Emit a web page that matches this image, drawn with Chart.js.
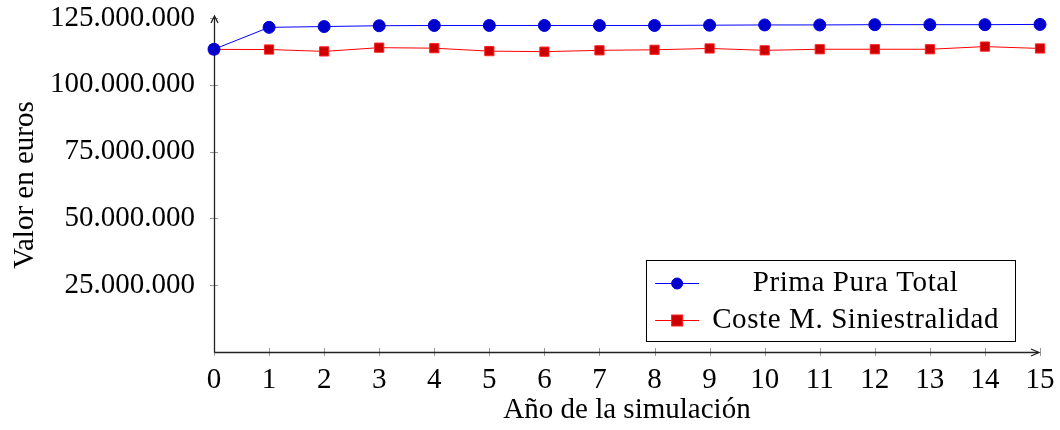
<!DOCTYPE html>
<html>
<head>
<meta charset="utf-8">
<script src="https://cdn.jsdelivr.net/npm/chart.js@4"></script>
<style>
  html, body { margin: 0; background: #fff; }
  #wrap { width: 1060px; height: 430px; position: relative; }
</style>
</head>
<body>
<div id="wrap"><canvas id="chart"></canvas></div>
<script>
// datos
const years = [0, 1, 2, 3, 4, 5, 6, 7, 8, 9, 10, 11, 12, 13, 14, 15];
const primaPura = [113.3e6, 121.5e6, 121.8e6, 122.1e6, 122.2e6, 122.2e6, 122.2e6, 122.2e6, 122.2e6, 122.3e6, 122.4e6, 122.4e6, 122.5e6, 122.5e6, 122.5e6, 122.6e6];
const costeSiniestralidad = [113.25e6, 113.2e6, 112.5e6, 113.9e6, 113.7e6, 112.6e6, 112.4e6, 112.9e6, 113.1e6, 113.6e6, 112.9e6, 113.3e6, 113.3e6, 113.3e6, 114.3e6, 113.6e6];
const yTickValues = [25e6, 50e6, 75e6, 100e6, 125e6];
const seriesNames = ['Prima Pura Total', 'Coste M. Siniestralidad'];

const FONT = '"Liberation Serif", "DejaVu Serif", serif';
const FSIZE = 29;

function fmtEuros(v) {
  return String(Math.round(v)).replace(/\B(?=(\d{3})+(?!\d))/g, '.');
}

// ejes con flecha y marcas cruzadas (estilo pgfplots)
const axesPlugin = {
  id: 'axesPlugin',
  beforeDatasetsDraw(chart) {
    const { ctx, chartArea: a, scales } = chart;
    const x = scales.x, y = scales.y;
    ctx.save();
    ctx.strokeStyle = '#999';
    ctx.lineWidth = 1;
    yTickValues.forEach(v => {
      const py = Math.round(y.getPixelForValue(v)) + 0.5;
      ctx.beginPath(); ctx.moveTo(a.left - 4, py); ctx.lineTo(a.left + 4, py); ctx.stroke();
    });
    years.forEach(v => {
      const px = Math.round(x.getPixelForValue(v)) + 0.5;
      ctx.beginPath(); ctx.moveTo(px, a.bottom - 4); ctx.lineTo(px, a.bottom + 4); ctx.stroke();
    });
    ctx.strokeStyle = '#222';
    ctx.lineWidth = 1.3;
    const L = Math.round(a.left) + 0.5, B = Math.round(a.bottom) + 0.5;
    ctx.beginPath(); ctx.moveTo(L, B); ctx.lineTo(L, a.top - 1); ctx.stroke();
    ctx.beginPath(); ctx.moveTo(L, B); ctx.lineTo(a.right - 2, B); ctx.stroke();
    // flechas
    ctx.beginPath();
    ctx.moveTo(L - 3.5, a.top + 5); ctx.lineTo(L, a.top - 2); ctx.lineTo(L + 3.5, a.top + 5);
    ctx.stroke();
    ctx.beginPath();
    ctx.moveTo(a.right - 9, B - 3.5); ctx.lineTo(a.right - 1, B); ctx.lineTo(a.right - 9, B + 3.5);
    ctx.stroke();
    ctx.restore();
  }
};

// leyenda dentro del área, abajo a la derecha
const legendBoxPlugin = {
  id: 'legendBoxPlugin',
  afterDatasetsDraw(chart) {
    const { ctx, chartArea: a } = chart;
    ctx.save();
    ctx.font = FSIZE + 'px ' + FONT;
    ctx.letterSpacing = '0.6px';
    const textW = Math.max(...chart.data.datasets.map(d => ctx.measureText(d.label).width)) + 8;
    const sampleW = 44, gap = 9, padL = 9, padR = 12, rowH = 37;
    const boxW = padL + sampleW + gap + textW + padR;
    const boxH = rowH * 2 + 7;
    const right = a.right - 25, bottom = a.bottom - 11;
    const left = right - boxW, top = bottom - boxH;
    ctx.fillStyle = '#fff';
    ctx.fillRect(left, top, boxW, boxH);
    ctx.strokeStyle = '#000';
    ctx.lineWidth = 1;
    ctx.strokeRect(Math.round(left) + 0.5, Math.round(top) + 0.5, Math.round(boxW), Math.round(boxH));
    chart.data.datasets.forEach((d, i) => {
      const cy = top + 3 + rowH * (i + 0.5) + 2;
      const sx = left + padL;
      ctx.strokeStyle = d.borderColor;
      ctx.lineWidth = 1;
      ctx.beginPath(); ctx.moveTo(sx, cy); ctx.lineTo(sx + sampleW, cy); ctx.stroke();
      const mx = sx + sampleW / 2;
      ctx.fillStyle = d.pointBackgroundColor;
      ctx.strokeStyle = d.pointBorderColor;
      if (d.pointStyle === 'rect') {
        ctx.fillRect(mx - 5.5, cy - 5.5, 11, 11);
        ctx.strokeRect(mx - 5.5, cy - 5.5, 11, 11);
      } else {
        ctx.beginPath(); ctx.arc(mx, cy, 5.5, 0, Math.PI * 2); ctx.fill(); ctx.stroke();
      }
      ctx.fillStyle = '#000';
      ctx.textAlign = 'center';
      ctx.textBaseline = 'middle';
      ctx.fillText(d.label, sx + sampleW + gap + textW / 2, cy);
    });
    ctx.restore();
  }
};

const ctx = document.getElementById('chart');
new Chart(ctx, {
  type: 'line',
  data: {
    labels: years,
    datasets: [
      {
        label: seriesNames[0],
        data: years.map((yr, i) => ({ x: yr, y: primaPura[i] })),
        borderColor: '#0000ff', borderWidth: 1,
        pointStyle: 'circle', pointRadius: 6,
        pointBackgroundColor: '#0000cc', pointBorderColor: '#0000e0', pointBorderWidth: 1,
        tension: 0, clip: false
      },
      {
        label: seriesNames[1],
        data: years.map((yr, i) => ({ x: yr, y: costeSiniestralidad[i] })),
        borderColor: '#ff0000', borderWidth: 1,
        pointStyle: 'rect', pointRadius: 6.5,
        pointBackgroundColor: '#cc0000', pointBorderColor: '#ff2020', pointBorderWidth: 1,
        tension: 0, clip: false
      }
    ]
  },
  options: {
    responsive: true, maintainAspectRatio: false, animation: false,
    layout: { padding: { top: 18, right: 20, left: 0, bottom: 0 } },
    plugins: { legend: { display: false }, tooltip: { enabled: false } },
    scales: {
      x: {
        type: 'linear', min: 0, max: 15,
        afterFit: s => { s.height = 78; s.paddingLeft = 0; s.paddingRight = 0; },
        border: { display: false },
        grid: { display: false, drawTicks: false },
        ticks: { stepSize: 1, padding: 11, color: '#000', font: { family: FONT, size: FSIZE } },
        title: { display: true, text: 'Año de la simulación', color: '#000', font: { family: FONT, size: FSIZE }, padding: { top: 0, bottom: 2 } }
      },
      y: {
        min: 0, max: 125e6,
        afterFit: s => { s.width = 214; s.paddingTop = 0; s.paddingBottom = 0; },
        border: { display: false },
        grid: { display: false, drawTicks: false },
        ticks: {
          stepSize: 25e6, padding: 19, color: '#000',
          font: { family: FONT, size: FSIZE },
          callback: v => v === 0 ? '' : fmtEuros(v)
        },
        title: { display: true, text: 'Valor en euros', color: '#000', font: { family: FONT, size: FSIZE }, padding: { top: 8, bottom: 0 } }
      }
    }
  },
  plugins: [axesPlugin, legendBoxPlugin]
});
</script>
</body>
</html>
